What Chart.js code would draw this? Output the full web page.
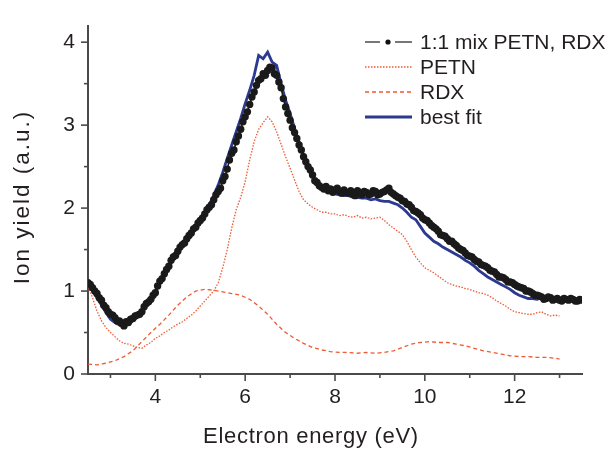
<!DOCTYPE html>
<html><head><meta charset="utf-8">
<script src="https://cdn.jsdelivr.net/npm/chart.js@4.4.0/dist/chart.umd.min.js"></script>
<style>html,body{margin:0;padding:0;background:#fff}canvas{display:block}</style>
</head><body>
<canvas id="c" width="609" height="450"></canvas>
<script>
// ---- data ----
const mixEnergy = [2.50,2.55,2.60,2.65,2.70,2.75,2.80,2.85,2.90,2.95,3.00,3.05,3.10,3.15,3.20,3.25,3.30,3.35,3.40,3.45,3.50,3.55,3.60,3.65,3.70,3.75,3.80,3.85,3.90,3.95,4.00,4.05,4.10,4.15,4.20,4.25,4.30,4.35,4.40,4.45,4.50,4.55,4.60,4.65,4.70,4.75,4.80,4.85,4.90,4.95,5.00,5.05,5.10,5.15,5.20,5.25,5.30,5.35,5.40,5.45,5.50,5.55,5.60,5.65,5.70,5.75,5.80,5.85,5.90,5.95,6.00,6.05,6.10,6.15,6.20,6.25,6.30,6.35,6.40,6.45,6.50,6.55,6.60,6.65,6.70,6.75,6.80,6.85,6.90,6.95,7.00,7.05,7.10,7.15,7.20,7.25,7.30,7.35,7.40,7.45,7.50,7.55,7.60,7.65,7.70,7.75,7.80,7.85,7.90,7.95,8.00,8.05,8.10,8.15,8.20,8.25,8.30,8.35,8.40,8.45,8.50,8.55,8.60,8.65,8.70,8.75,8.80,8.85,8.90,8.95,9.00,9.05,9.10,9.15,9.20,9.25,9.30,9.35,9.40,9.45,9.50,9.55,9.60,9.65,9.70,9.75,9.80,9.85,9.90,9.95,10.00,10.05,10.10,10.15,10.20,10.25,10.30,10.35,10.40,10.45,10.50,10.55,10.60,10.65,10.70,10.75,10.80,10.85,10.90,10.95,11.00,11.05,11.10,11.15,11.20,11.25,11.30,11.35,11.40,11.45,11.50,11.55,11.60,11.65,11.70,11.75,11.80,11.85,11.90,11.95,12.00,12.05,12.10,12.15,12.20,12.25,12.30,12.35,12.40,12.45,12.50,12.55,12.60,12.65,12.70,12.75,12.80,12.85,12.90,12.95,13.00,13.05,13.10,13.15,13.20,13.25,13.30,13.35,13.40,13.45,13.50];
const mixYield = [1.10,1.08,1.04,1.00,0.97,0.92,0.89,0.83,0.80,0.75,0.72,0.71,0.68,0.64,0.64,0.61,0.58,0.63,0.62,0.66,0.67,0.70,0.71,0.72,0.75,0.81,0.85,0.87,0.90,0.95,0.98,1.06,1.12,1.15,1.21,1.26,1.30,1.37,1.41,1.43,1.48,1.53,1.56,1.58,1.63,1.67,1.70,1.75,1.77,1.82,1.85,1.88,1.93,1.98,2.01,2.04,2.10,2.16,2.20,2.24,2.33,2.38,2.47,2.58,2.66,2.70,2.80,2.87,2.95,3.04,3.10,3.16,3.25,3.34,3.40,3.48,3.54,3.56,3.62,3.60,3.66,3.70,3.69,3.62,3.60,3.52,3.45,3.32,3.22,3.14,3.06,2.97,2.91,2.84,2.76,2.70,2.62,2.56,2.50,2.46,2.40,2.33,2.31,2.27,2.25,2.23,2.26,2.21,2.23,2.19,2.22,2.24,2.20,2.18,2.22,2.19,2.18,2.21,2.17,2.15,2.21,2.18,2.16,2.20,2.19,2.16,2.17,2.21,2.20,2.16,2.17,2.19,2.20,2.22,2.24,2.19,2.17,2.15,2.13,2.12,2.09,2.08,2.05,2.04,2.01,1.97,1.96,1.94,1.92,1.88,1.86,1.85,1.82,1.79,1.77,1.75,1.72,1.68,1.67,1.66,1.63,1.60,1.60,1.57,1.55,1.52,1.50,1.49,1.46,1.43,1.42,1.41,1.38,1.36,1.35,1.32,1.31,1.30,1.28,1.25,1.24,1.23,1.20,1.17,1.17,1.16,1.14,1.11,1.11,1.10,1.08,1.06,1.05,1.04,1.03,1.00,1.00,0.99,0.97,0.95,0.95,0.94,0.93,0.90,0.91,0.93,0.92,0.89,0.90,0.91,0.89,0.88,0.91,0.90,0.89,0.91,0.90,0.88,0.88,0.90,0.89];
const energy = [2.5,2.6,2.7,2.8,2.9,3.0,3.1,3.2,3.3,3.4,3.5,3.6,3.7,3.8,3.9,4.0,4.1,4.2,4.3,4.4,4.5,4.6,4.7,4.8,4.9,5.0,5.1,5.2,5.3,5.4,5.5,5.6,5.7,5.8,5.9,6.0,6.1,6.2,6.3,6.4,6.5,6.6,6.7,6.8,6.9,7.0,7.1,7.2,7.3,7.4,7.5,7.6,7.7,7.8,7.9,8.0,8.1,8.2,8.3,8.4,8.5,8.6,8.7,8.8,8.9,9.0,9.1,9.2,9.3,9.4,9.5,9.6,9.7,9.8,9.9,10.0,10.1,10.2,10.3,10.4,10.5,10.6,10.7,10.8,10.9,11.0,11.1,11.2,11.3,11.4,11.5,11.6,11.7,11.8,11.9,12.0,12.1,12.2,12.3,12.4,12.5,12.6,12.7,12.8,12.9,13.0,13.1,13.2,13.3,13.4,13.5];
const fitYield = [1.08,1.00,0.92,0.83,0.74,0.66,0.62,0.59,0.57,0.60,0.64,0.69,0.75,0.84,0.91,0.99,1.10,1.20,1.29,1.39,1.48,1.56,1.63,1.70,1.78,1.86,1.95,2.04,2.15,2.28,2.43,2.60,2.76,2.92,3.08,3.26,3.42,3.60,3.84,3.80,3.88,3.76,3.72,3.50,3.30,3.14,2.96,2.80,2.64,2.49,2.38,2.29,2.23,2.20,2.19,2.17,2.16,2.15,2.15,2.13,2.13,2.12,2.12,2.10,2.11,2.09,2.08,2.08,2.06,2.04,2.00,1.95,1.89,1.86,1.78,1.70,1.65,1.60,1.57,1.53,1.50,1.47,1.44,1.41,1.37,1.34,1.30,1.25,1.21,1.17,1.14,1.11,1.08,1.05,1.02,0.98,0.95,0.93,0.91,0.91,0.90,0.92,0.91,0.93,0.91,0.89,0.90,0.88,0.89,0.87,0.88];
const petnYield = [1.05,0.92,0.76,0.64,0.56,0.50,0.45,0.40,0.37,0.36,0.34,0.32,0.31,0.35,0.38,0.43,0.46,0.50,0.53,0.57,0.60,0.63,0.67,0.71,0.76,0.82,0.88,0.94,1.00,1.10,1.28,1.50,1.76,1.98,2.13,2.32,2.58,2.80,2.95,3.03,3.10,3.04,2.92,2.77,2.62,2.48,2.34,2.20,2.10,2.05,2.01,1.98,1.95,1.95,1.93,1.93,1.91,1.92,1.90,1.89,1.91,1.88,1.89,1.87,1.88,1.89,1.85,1.80,1.76,1.72,1.68,1.60,1.50,1.41,1.34,1.28,1.25,1.22,1.18,1.14,1.10,1.08,1.06,1.05,1.03,1.02,1.00,0.98,0.97,0.95,0.92,0.88,0.85,0.82,0.78,0.75,0.74,0.73,0.72,0.72,0.74,0.75,0.72,0.70,0.71,0.70];
const rdxEnergy = [2.5,2.7,2.9,3.1,3.3,3.5,3.7,3.9,4.1,4.3,4.5,4.7,4.9,5.1,5.3,5.5,5.7,5.9,6.1,6.3,6.5,6.7,6.9,7.1,7.3,7.5,7.7,7.9,8.1,8.3,8.5,8.7,8.9,9.1,9.3,9.5,9.7,9.9,10.1,10.3,10.5,10.7,10.9,11.1,11.3,11.5,11.7,11.9,12.1,12.3,12.5,12.7,12.9,13.0];
const rdxYield = [0.12,0.11,0.13,0.16,0.21,0.28,0.39,0.50,0.60,0.71,0.83,0.93,1.00,1.02,1.01,0.99,0.97,0.95,0.90,0.82,0.72,0.60,0.50,0.43,0.37,0.32,0.29,0.27,0.26,0.26,0.25,0.26,0.25,0.26,0.28,0.32,0.36,0.38,0.39,0.38,0.38,0.36,0.34,0.31,0.28,0.26,0.24,0.22,0.21,0.21,0.20,0.20,0.19,0.18];
const seriesNames = ['1:1 mix PETN, RDX','PETN','RDX','best fit'];
const xMajorTicks = [4,6,8,10,12];
const xMinorTicks = [3,5,7,9,11,13];
const yMajorTicks = [0,1,2,3,4];
const yMinorTicks = [0.5,1.5,2.5,3.5];
const xTitle = 'Electron energy (eV)';
const yTitle = 'Ion yield (a.u.)';

// ---- style ----
const FONT = "'Liberation Sans', Arial, Helvetica, sans-serif";
const AXIS = '#4a4a4a';
const TXT = '#231f20';
const RED = '#ee5a34';
const BLUE = '#2b3990';
const pts = (xs, ys) => ys.map((y, i) => ({x: xs[i], y}));

const tickPlugin = {
  id: 'minorMajorTicks',
  afterDraw(chart) {
    const ctx = chart.ctx, xs = chart.scales.x, ys = chart.scales.y, a = chart.chartArea;
    ctx.save();
    ctx.strokeStyle = AXIS; ctx.lineWidth = 1.6;
    const seg = (x1, y1, x2, y2) => { ctx.beginPath(); ctx.moveTo(x1, y1); ctx.lineTo(x2, y2); ctx.stroke(); };
    xMajorTicks.forEach(v => { const p = xs.getPixelForValue(v); seg(p, a.bottom, p, a.bottom + 7); });
    xMinorTicks.forEach(v => { const p = xs.getPixelForValue(v); seg(p, a.bottom, p, a.bottom + 4); });
    yMajorTicks.forEach(v => { const p = ys.getPixelForValue(v); seg(a.left, p, a.left - 7, p); });
    yMinorTicks.forEach(v => { const p = ys.getPixelForValue(v); seg(a.left, p, a.left - 4, p); });
    ctx.restore();
  }
};

const titlePlugin = {
  id: 'axisTitles',
  afterDraw(chart) {
    const ctx = chart.ctx;
    ctx.save();
    ctx.fillStyle = TXT; ctx.textAlign = 'center'; ctx.textBaseline = 'middle';
    ctx.font = '22px ' + FONT;
    if ('letterSpacing' in ctx) ctx.letterSpacing = '0.7px';
    ctx.fillText(xTitle, 311, 437);
    ctx.translate(23, 197); ctx.rotate(-Math.PI / 2);
    ctx.font = '22.5px ' + FONT;
    if ('letterSpacing' in ctx) ctx.letterSpacing = '2px';
    ctx.fillText(yTitle, 0, 0);
    ctx.restore();
  }
};

const legendPlugin = {
  id: 'insideLegend',
  afterDraw(chart) {
    const ctx = chart.ctx;
    const x0 = 365, x1 = 412, tx = 420, y0 = 42, dy = 25;
    ctx.save();
    ctx.font = '21px ' + FONT;
    ctx.fillStyle = TXT; ctx.textBaseline = 'middle'; ctx.textAlign = 'left';
    seriesNames.forEach((n, i) => {
      const y = y0 + i * dy;
      ctx.save();
      if (i === 0) {
        ctx.strokeStyle = '#777'; ctx.lineWidth = 2;
        ctx.beginPath(); ctx.moveTo(x0, y); ctx.lineTo(x0 + 15, y); ctx.moveTo(x1 - 17, y); ctx.lineTo(x1, y); ctx.stroke();
        ctx.fillStyle = '#111'; ctx.beginPath(); ctx.arc(x0 + 23, y, 2.6, 0, Math.PI * 2); ctx.fill();
      } else if (i === 1) {
        ctx.strokeStyle = RED; ctx.lineWidth = 1.4; ctx.setLineDash([1.5, 1.5]);
        ctx.beginPath(); ctx.moveTo(x0, y); ctx.lineTo(x1, y); ctx.stroke();
      } else if (i === 2) {
        ctx.strokeStyle = RED; ctx.lineWidth = 1.4; ctx.setLineDash([4, 3]);
        ctx.beginPath(); ctx.moveTo(x0, y); ctx.lineTo(x1, y); ctx.stroke();
      } else {
        ctx.strokeStyle = BLUE; ctx.lineWidth = 3;
        ctx.beginPath(); ctx.moveTo(x0, y); ctx.lineTo(x1, y); ctx.stroke();
      }
      ctx.restore();
      ctx.fillText(n, tx, y + 1);
    });
    ctx.restore();
  }
};

new Chart(document.getElementById('c'), {
  type: 'line',
  data: {
    datasets: [
      { label: seriesNames[0], data: pts(mixEnergy, mixYield), borderColor: '#1a1a1a', borderWidth: 1.6,
        pointRadius: 3.7, pointBackgroundColor: '#1a1a1a', pointBorderWidth: 0, pointHoverRadius: 0, order: 0 },
      { label: seriesNames[1], data: pts(energy, petnYield), borderColor: RED, borderWidth: 1.3,
        borderDash: [1.5, 1.5], pointRadius: 0, order: 2 },
      { label: seriesNames[2], data: pts(rdxEnergy, rdxYield), borderColor: RED, borderWidth: 1.3,
        borderDash: [4, 3], pointRadius: 0, order: 3 },
      { label: seriesNames[3], data: pts(energy, fitYield), borderColor: BLUE, borderWidth: 2.8,
        pointRadius: 0, order: 1 }
    ]
  },
  options: {
    responsive: false, animation: false, devicePixelRatio: 1,
    layout: { padding: { top: 10, right: 27, left: 0, bottom: 0 } },
    plugins: { legend: { display: false }, tooltip: { enabled: false } },
    elements: { line: { tension: 0 } },
    scales: {
      x: {
        type: 'linear', min: 2.5, max: 13.5,
        afterFit: s => { s.height = 76; },
        afterBuildTicks: s => { s.ticks = xMajorTicks.map(v => ({value: v})); },
        grid: { display: false, drawTicks: false },
        border: { display: true, color: AXIS, width: 2 },
        ticks: { padding: 11, color: TXT, font: { family: FONT, size: 21 }, maxRotation: 0, autoSkip: false },
        title: { display: false }
      },
      y: {
        type: 'linear', min: 0, max: 4.2,
        afterFit: s => { s.width = 88; },
        afterBuildTicks: s => { s.ticks = yMajorTicks.map(v => ({value: v})); },
        grid: { display: false, drawTicks: false },
        border: { display: true, color: AXIS, width: 2 },
        ticks: { padding: 13, color: TXT, font: { family: FONT, size: 21 }, autoSkip: false },
        title: { display: false }
      }
    }
  },
  plugins: [tickPlugin, titlePlugin, legendPlugin]
});
</script>
</body></html>
